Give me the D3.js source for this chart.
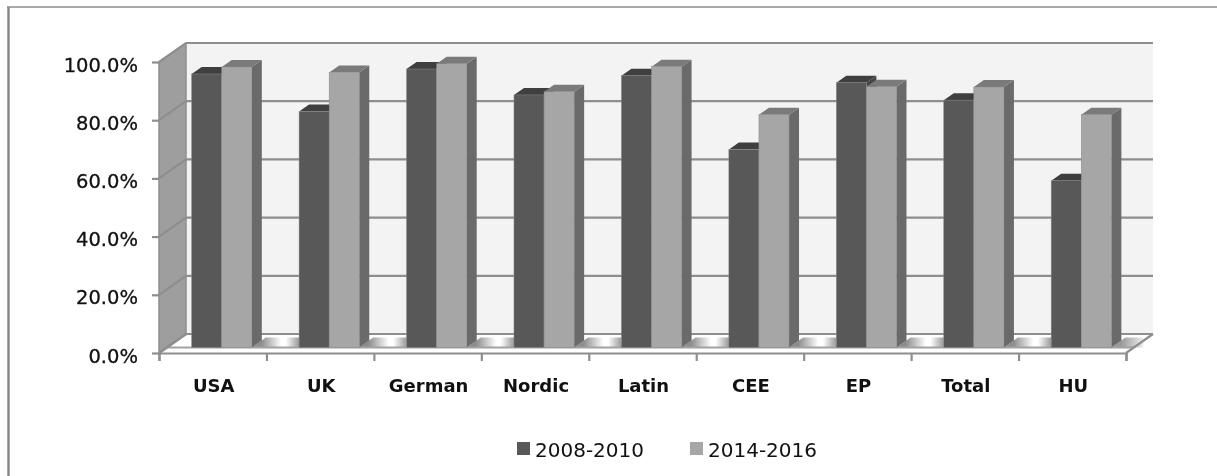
<!DOCTYPE html>
<html>
<head>
<meta charset="utf-8">
<script src="https://cdnjs.cloudflare.com/ajax/libs/d3/7.8.5/d3.min.js"></script>
<style>
  html, body { margin: 0; padding: 0; background: #fff; }
  svg { display: block; filter: blur(0.45px); }
  text { font-family: "DejaVu Sans", sans-serif; fill: #111; }
</style>
</head>
<body>
<div id="chart"></div>
<script>
const categories = ["USA", "UK", "German", "Nordic", "Latin", "CEE", "EP", "Total", "HU"];
const seriesNames = ["2008-2010", "2014-2016"];
const values2008 = [94.0, 81.1, 95.7, 86.8, 93.4, 68.0, 91.0, 85.0, 57.3];
const values2014 = [96.4, 94.5, 97.5, 87.9, 96.5, 80.0, 89.6, 89.5, 80.0];
const yTicks = [0, 20, 40, 60, 80, 100];

const width = 1217, height = 476;
const wallDx = 27, wallDy = -19;   // depth of the 3d box
const barDx = 10, barDy = -7;      // depth of one bar
const floorDx = 9, floorDy = -5.5; // where bars stand on the floor

const x = d3.scaleBand().domain(categories).range([159, 1126]).paddingInner(0.44).paddingOuter(0.22);
const y = d3.scaleLinear().domain([0, 100]).range([353, 62]);

const svg = d3.select("#chart").append("svg").attr("width", width).attr("height", height);

// outer frame, only top and left show up
svg.append("path").attr("d", "M8.5,476V7").attr("stroke", "#858585").attr("stroke-width", 2.4);
svg.append("path").attr("d", "M7,7H1217").attr("stroke", "#8c8c8c").attr("stroke-width", 1.6);

const defs = svg.append("defs");
const shade = defs.append("linearGradient").attr("id", "floorShade");
shade.append("stop").attr("offset", 0.2).attr("stop-color", "#8c8c8c");
shade.append("stop").attr("offset", 0.62).attr("stop-color", "#ffffff");
shade.append("stop").attr("offset", 0.72).attr("stop-color", "#ffffff");
shade.append("stop").attr("offset", 1).attr("stop-color", "#9a9a9a");
const shadeEnd = defs.append("linearGradient").attr("id", "floorShadeEnd");
shadeEnd.append("stop").attr("offset", 0.3).attr("stop-color", "#999999");
shadeEnd.append("stop").attr("offset", 1).attr("stop-color", "#eeeeee");

const pts = a => a.map(p => p.join(",")).join(" ");
const x0 = x.range()[0], x1 = x.range()[1];
const y0 = y(0);

// back wall
svg.append("rect").attr("x", x0 + wallDx).attr("y", y(100) + wallDy)
  .attr("width", x1 - x0).attr("height", y0 - y(100)).attr("fill", "#f3f3f3");

// left wall
svg.append("polygon")
  .attr("points", pts([[x0, y0], [x0, y(100)], [x0 + wallDx, y(100) + wallDy], [x0 + wallDx, y0 + wallDy]]))
  .attr("fill", "#9e9e9e");

// floor
svg.append("polygon")
  .attr("points", pts([[x0, y0], [x1, y0], [x1 + wallDx, y0 + wallDy], [x0 + wallDx, y0 + wallDy]]))
  .attr("fill", "#ffffff");

// bar shadows on the floor, running from one pair of bars to the next
const base = y0 + floorDy;
categories.forEach((c, i) => {
  const sx = x(c) + floorDx + x.bandwidth();
  const last = i === categories.length - 1;
  const ex = last ? sx + 32 : x(categories[i + 1]) + floorDx;
  svg.append("polygon")
    .attr("points", pts([[sx, base], [ex, base], [ex, base - 10], [sx + 14, base - 10]]))
    .attr("fill", last ? "url(#floorShadeEnd)" : "url(#floorShade)");
});

// gridlines on back and left wall
yTicks.forEach(t => {
  svg.append("path")
    .attr("d", `M${x0},${y(t)}L${x0 + wallDx},${y(t) + wallDy}H${x1 + wallDx}`)
    .attr("fill", "none").attr("stroke", "#8e8e8e").attr("stroke-width", 2.2);
});

svg.append("path")
  .attr("d", `M${x0},${y(100)}V${y0}M${x0 + wallDx},${y(100) + wallDy}V${y0 + wallDy}`)
  .attr("stroke", "#8e8e8e").attr("stroke-width", 1.5);

// front lip of the floor
svg.append("path")
  .attr("d", `M${x0 + 8},${base}H${x1 + 8}`)
  .attr("stroke", "#a2a2a2").attr("stroke-width", 1.8);

svg.append("path")
  .attr("d", `M${x0},${y0}L${x0 + wallDx},${y0 + wallDy}M${x1},${y0}L${x1 + wallDx},${y0 + wallDy}`)
  .attr("stroke", "#8e8e8e").attr("stroke-width", 2.2);

// bars
const groups = [
  { values: values2008, front: "#585858", top: "#3f3f3f", side: "#454545", offset: 0 },
  { values: values2014, front: "#a6a6a6", top: "#7a7a7a", side: "#6a6a6a", offset: 1 }
];

categories.forEach((c, i) => {
  groups.forEach(g => {
    const w = x.bandwidth() / 2;
    const bx = x(c) + floorDx + g.offset * w;
    const by = base - (y0 - y(g.values[i]));
    const bar = svg.append("g");
    bar.append("polygon")
      .attr("points", pts([[bx + w, by], [bx + w + barDx, by + barDy], [bx + w + barDx, base + barDy], [bx + w, base]]))
      .attr("fill", g.side);
    bar.append("polygon")
      .attr("points", pts([[bx, by], [bx + barDx, by + barDy], [bx + w + barDx, by + barDy], [bx + w, by]]))
      .attr("fill", g.top);
    bar.append("rect")
      .attr("x", bx).attr("y", by).attr("width", w).attr("height", base - by)
      .attr("fill", g.front).attr("stroke", "#8a8a8a").attr("stroke-width", 0.5);
  });
});

// y axis
const yAxis = d3.axisLeft(y).tickValues(yTicks).tickSize(7).tickPadding(14).tickFormat(d => d.toFixed(1) + "%");
const gy = svg.append("g").attr("transform", `translate(${x0},0)`).call(yAxis);
gy.select(".domain").remove();
gy.selectAll("line").attr("stroke", "#8e8e8e").attr("stroke-width", 2.2);
gy.selectAll("text").attr("font-size", 19.5).attr("dy", "0.47em")
  .attr("stroke", "#111").attr("stroke-width", 0.3);

// x axis
const xAxis = d3.axisBottom(d3.scaleLinear().domain([0, categories.length]).range([x0, x1]))
  .ticks(categories.length).tickSize(8).tickFormat("");
const gx = svg.append("g").attr("transform", `translate(0,${y0})`).call(xAxis);
gx.select(".domain").attr("stroke", "#8e8e8e").attr("stroke-width", 2.2);
gx.selectAll("line").attr("stroke", "#8e8e8e").attr("stroke-width", 2.2);

svg.append("g").selectAll("text").data(categories).join("text")
  .attr("x", d => x(d) + x.bandwidth() / 2 + 1)
  .attr("y", 392)
  .attr("text-anchor", "middle")
  .attr("font-size", 18)
  .attr("font-weight", "bold")
  .text(d => d);

// legend
const legendX = [517, 690];
const legendColors = ["#585858", "#a6a6a6"];
seriesNames.forEach((name, i) => {
  svg.append("rect").attr("x", legendX[i]).attr("y", 442).attr("width", 13).attr("height", 13).attr("fill", legendColors[i]);
  svg.append("text").attr("x", legendX[i] + 18).attr("y", 457).attr("font-size", 20).text(name);
});
</script>
</body>
</html>
